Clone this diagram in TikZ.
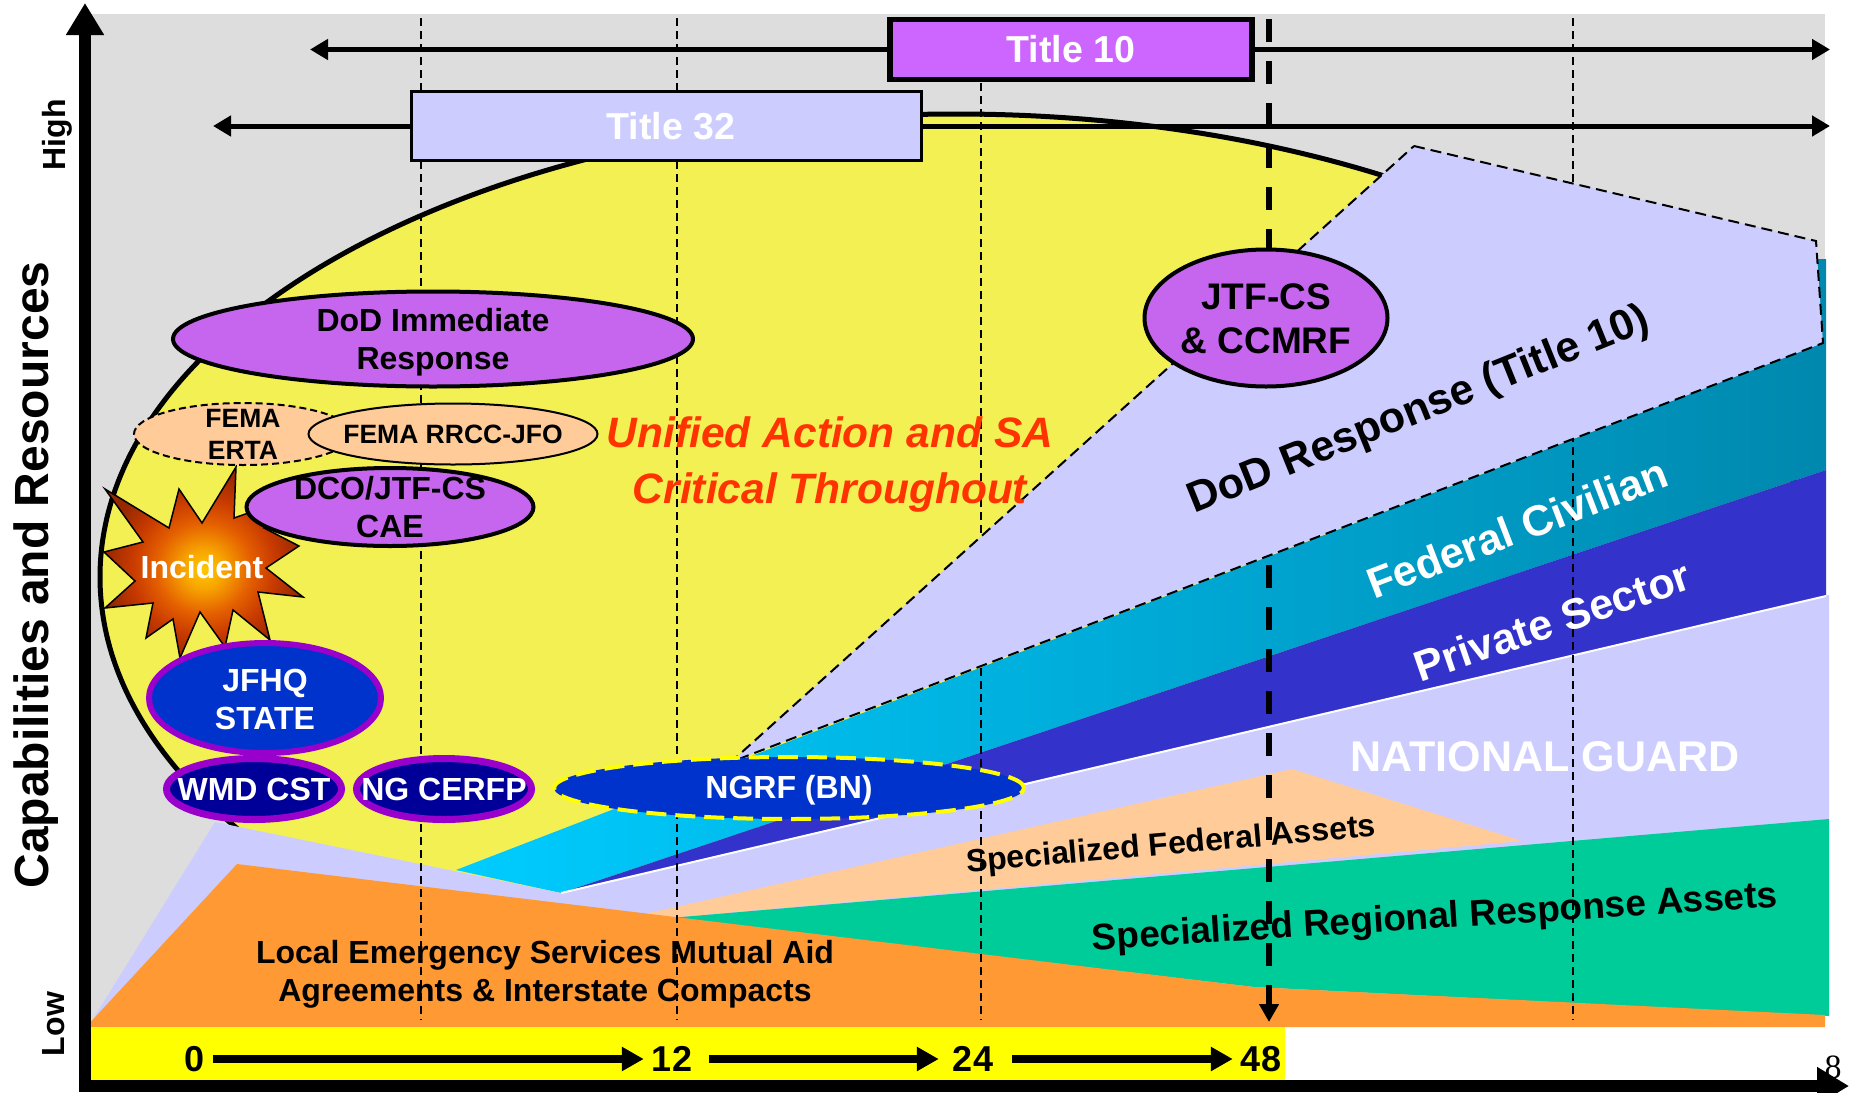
\documentclass[tikz,border=0pt]{standalone}
\usepackage{fontspec}
\setmainfont{Liberation Sans}
\newfontfamily\strayfont{Liberation Serif}
\usetikzlibrary{arrows.meta, shapes.geometric}
\definecolor{bggray}{RGB}{221,221,221}
\definecolor{bigyellow}{RGB}{243,240,84}
\definecolor{lavender}{RGB}{204,204,255}
\definecolor{fedcyan}{RGB}{0,204,255}
\definecolor{fedmid}{RGB}{0,176,220}
\definecolor{fedteal}{RGB}{0,136,174}
\definecolor{privblue}{RGB}{51,51,204}
\definecolor{peach}{RGB}{255,204,153}
\definecolor{regiongreen}{RGB}{0,204,153}
\definecolor{localorange}{RGB}{255,153,51}
\definecolor{stripyellow}{RGB}{255,255,0}
\definecolor{ovalpurple}{RGB}{198,102,238}
\definecolor{boxpurple}{RGB}{204,102,255}
\definecolor{ringpurple}{RGB}{153,0,204}
\definecolor{royal}{RGB}{0,51,204}
\definecolor{navy}{RGB}{0,0,153}
\definecolor{alertred}{RGB}{255,51,0}
\definecolor{burst0}{RGB}{255,200,0}
\definecolor{burst1}{RGB}{248,165,0}
\definecolor{burst2}{RGB}{228,95,0}
\definecolor{burst3}{RGB}{200,58,0}
\definecolor{burst4}{RGB}{150,40,0}
\pgfdeclareradialshading{burst}{\pgfpoint{0bp}{-2bp}}{color(0bp)=(burst0); color(5bp)=(burst1); color(12bp)=(burst2); color(18bp)=(burst3); color(25bp)=(burst4); color(50bp)=(burst4)}
\tikzstyle{text-32}=[font=\fontsize{32}{38}\selectfont\bfseries, align=center, inner sep=0pt]
\tikzstyle{text-26}=[font=\fontsize{26.5}{32}\selectfont\bfseries, align=center, inner sep=0pt]
\tikzstyle{text-37}=[font=\fontsize{37}{44}\selectfont\bfseries, align=center, inner sep=0pt]
\tikzstyle{text-42}=[font=\fontsize{43}{56}\selectfont\bfseries, align=center, inner sep=0pt]
\tikzstyle{white-32}=[text-32, text=white]
\tikzstyle{purple-oval}=[ellipse, draw=black, fill=ovalpurple, line width=4pt, inner sep=0pt]
\tikzstyle{peach-oval}=[ellipse, draw=black, fill=peach, line width=2pt, inner sep=0pt]
\tikzstyle{ring-oval}=[ellipse, draw=ringpurple, line width=7pt, inner sep=0pt]
\tikzstyle{title-box}=[rectangle, draw=black, inner sep=0pt, text=white, font=\fontsize{37.5}{44}\selectfont\bfseries]
\tikzstyle{span-arrow}=[draw=black, line width=5pt, -{Triangle[length=18pt,width=20pt]}]
\tikzstyle{axis-arrow}=[draw=black, line width=12pt, -{Triangle[length=32pt,width=36pt]}]
\tikzstyle{hour-line}=[draw=black, line width=2pt, dash pattern=on 8pt off 5pt]
\tikzstyle{hour-arrow}=[draw=black, line width=8pt, -{Triangle[length=22pt,width=23pt]}]
\tikzstyle{hour-num}=[font=\fontsize{36}{40}\selectfont\bfseries, inner sep=8pt]

\begin{document}
\begin{tikzpicture}[x=1pt, y=-1pt]
\useasboundingbox (0,0) rectangle (1849,1092);

% background and big response curve
\fill[bggray] (91,14) rectangle (1825,1027);
\draw[fill=bigyellow, draw=black, line width=5pt] (956,577) ellipse [x radius=856pt, y radius=463pt];

% layered bands
\path[left color=fedcyan, middle color=fedmid, right color=fedteal] (456,870) -- (1822,343) -- (1817,259) -- (1826,259) -- (1826,470) -- (561,893) -- cycle;
\fill[privblue] (561,893) -- (1826,470) -- (1826,596) -- cycle;
\fill[lavender] (90,1024) -- (215,822) -- (561,893) -- (1829,595) -- (1829,1015) -- (90,1027) -- cycle;
\coordinate (guard-low) at (561,893);
\coordinate (guard-high) at (1826,596);
\draw[white, line width=2pt] (guard-low) -- (guard-high);
\fill[peach] (640,915) -- (1292,769) -- (1522,841) -- (680,917) -- cycle;
\fill[regiongreen] (670,918) -- (1829,819) -- (1829,1016) -- (1254,987) -- cycle;
\fill[localorange] (86,1027) -- (237,864) -- (1254,987) -- (1825,1015) -- (1825,1027) -- cycle;
\fill[stripyellow] (91,1027) rectangle (1285,1081);

% hour lines
\foreach \x in {421,677,981,1573}
{
	\coordinate (top-\x) at (\x,18);
	\coordinate (low-\x) at (\x,1020);
	\draw[hour-line] (top-\x) -- (low-\x);
}
\coordinate (h48-top) at (1269,19);
\coordinate (h48-low) at (1269,1022);
\draw[draw=black, line width=6pt, dash pattern=on 23pt off 19pt, -{Triangle[length=18pt,width=19pt]}] (h48-top) -- (h48-low);

\draw[fill=lavender, draw=black, line width=2pt, dash pattern=on 11pt off 6pt] (1414,146) -- (1816,241) -- (1823,343) -- (731,762) -- cycle;

% title bars
\node[title-box, fill=boxpurple, line width=5.5pt, minimum width=362pt, minimum height=60pt] (title10) at (1071,49.5) {Title 10};
\node[title-box, fill=lavender, line width=3pt, minimum width=510pt, minimum height=69pt] (title32) at (666,126) {\hspace{10pt}Title 32};
\coordinate (t10-left) at (310,49.5);
\coordinate (t10-right) at (1830,49.5);
\coordinate (t32-left) at (213,126);
\coordinate (t32-right) at (1830,126);
\draw[span-arrow] (title10) -- (t10-left);
\draw[span-arrow] (title10) -- (t10-right);
\draw[span-arrow] (title32) -- (t32-left);
\draw[span-arrow] (title32) -- (t32-right);

% incident burst
\path[shade, shading=burst, draw=black, line width=1.5pt] (236,467) -- (234,518) -- (280,502) -- (264,528) -- (299,546) -- (266,568) -- (303,597) -- (258,592) -- (270,640) -- (233,610) -- (225,647) -- (200,612) -- (180,658) -- (173,619) -- (146,638) -- (153,603) -- (105,608) -- (135,581) -- (104,552) -- (143,542) -- (105,489) -- (169,528) -- (179,489) -- (202,523) -- cycle;
\node[white-32] (incident) at (202,567) {Incident};

% ovals
\node[purple-oval, minimum width=520pt, minimum height=95pt, label={[text-32, yshift=-3.5pt]center:DoD Immediate\\Response}] (immediate) at (433,339) {};
\node[peach-oval, dash pattern=on 7pt off 4pt, minimum width=218pt, minimum height=62pt, label={[text-26]center:FEMA\\ERTA}] (erta) at (243,434) {};
\node[peach-oval, minimum width=289pt, minimum height=61pt, label={[text-26]center:FEMA RRCC-JFO}] (rrcc) at (453,434) {};
\node[purple-oval, minimum width=287pt, minimum height=78pt, label={[text-32]center:DCO/JTF-CS\\CAE}] (dco) at (390,507) {};
\node[ring-oval, fill=royal, line width=6pt, minimum width=232pt, minimum height=110pt, label={[white-32, yshift=-1.5pt]center:JFHQ\\STATE}] (jfhq) at (265,698) {};
\node[ring-oval, fill=navy, minimum width=175pt, minimum height=61pt, label={[white-32]center:WMD CST}] (wmd) at (254,789) {};
\node[ring-oval, fill=navy, minimum width=175pt, minimum height=61pt, label={[white-32]center:NG CERFP}] (cerfp) at (444,789) {};
\node[ellipse, fill=royal, draw=stripyellow, line width=4pt, dash pattern=on 20pt off 9pt, inner sep=0pt, minimum width=470pt, minimum height=62pt, label={[white-32, yshift=-2.5pt]center:NGRF (BN)}] (ngrf) at (789,788) {};
\node[purple-oval, minimum width=243pt, minimum height=137pt, label={[text-37, yshift=-1pt]center:JTF-CS\\\& CCMRF}] (jtf) at (1266,318) {};

% band labels
\node[text-42, font=\fontsize{42.5}{56}\selectfont\bfseries\itshape, text=alertred] (unified) at (830,464.5) {Unified Action and SA\\Critical Throughout};
\node[text-42, rotate=22] (dodresp) at (1419,411) {DoD Response (Title 10)};
\node[text-42, rotate=21, text=white] (federal) at (1517,528) {Federal Civilian};
\node[text-42, rotate=19, text=white] (private) at (1552,621) {Private Sector};
\node[text-42, text=white] (guard) at (1545,757) {NATIONAL GUARD};
\node[text-32, rotate=5] (fedassets) at (1171,846) {Specialized Federal Assets};
\node[text-37, rotate=3.6] (regional) at (1435,919) {Specialized Regional Response Assets};
\node[text-32] (local) at (545,974.5) {Local Emergency Services Mutual Aid\\Agreements \& Interstate Compacts};

% time line
\node[hour-num] (h0) at (195,1059) {0};
\node[hour-num] (h12) at (672,1059) {12};
\node[hour-num] (h24) at (973,1059) {24};
\node[hour-num] (h48) at (1261,1059) {48};
\draw[hour-arrow] (h0) -- (h12);
\draw[hour-arrow, shorten <=9pt, shorten >=6pt] (h12) -- (h24);
\draw[hour-arrow, shorten <=11pt] (h24) -- (h48);

% axes
\coordinate (y-foot) at (85,1092);
\coordinate (y-tip) at (85,3);
\coordinate (x-foot) at (79,1086);
\coordinate (x-tip) at (1849,1086);
\draw[axis-arrow] (y-foot) -- (y-tip);
\draw[axis-arrow] (x-foot) -- (x-tip);
\node[font=\fontsize{48}{52}\selectfont\bfseries, rotate=90, anchor=base, inner sep=0pt] (ylabel) at (48,575) {Capabilities and Resources};
\node[font=\fontsize{32}{36}\selectfont\bfseries, rotate=90, anchor=base, inner sep=0pt] (high) at (65,135) {High};
\node[font=\fontsize{32}{36}\selectfont\bfseries, rotate=90, anchor=base, inner sep=0pt] (low) at (64,1024) {Low};
\node[font=\fontsize{34}{36}\selectfont\strayfont, inner sep=0pt] (stray) at (1833,1067) {8};
\end{tikzpicture}
\end{document}
